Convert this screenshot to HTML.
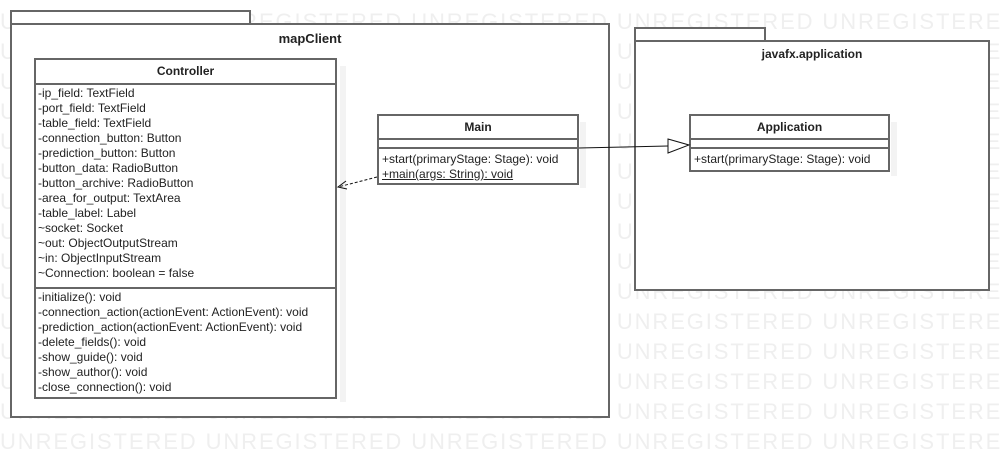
<!DOCTYPE html>
<html><head><style>
body{margin:0;width:1002px;height:458px;background:#fff;position:relative;overflow:hidden;font-family:"Liberation Sans",sans-serif;}
.wm{position:absolute;left:0;font-size:22px;color:#efefef;white-space:nowrap;letter-spacing:1.9px;line-height:1}
.b{position:absolute;border:1px solid #555;background:#fff;box-sizing:border-box}
.t{position:absolute;font-size:12px;color:#222;white-space:nowrap}
.hd{font-weight:bold;text-align:center;font-size:12px}
.sh{position:absolute;background:#f3f3f3}
</style></head><body>
<div id="wm"></div>
<script>
var s='';for(var i=0;i<15;i++){s+='<div class="wm" style="top:'+(11+i*30)+'px">'+'UNREGISTERED '.repeat(6)+'</div>';}
document.getElementById('wm').innerHTML=s;
</script>
<!-- mapClient package -->
<div class="b" style="left:10px;top:10px;width:241px;height:15px;border-width:2px;border-color:#666"></div>
<div class="b" style="left:10px;top:23px;width:600px;height:395px;border-width:2px;border-color:#666"></div>
<div class="t hd" style="left:10px;top:31px;width:600px;font-size:13px">mapClient</div>
<!-- javafx package -->
<div class="b" style="left:634px;top:27px;width:132px;height:15px;border-width:2px;border-color:#666"></div>
<div class="b" style="left:634px;top:40px;width:356px;height:251px;border-width:2px;border-color:#666"></div>
<div class="t hd" style="left:634px;top:47px;width:356px">javafx.application</div>
<!-- Controller -->
<div class="sh" style="left:340px;top:66px;width:6px;height:336px"></div>
<div class="b" style="left:34px;top:58px;width:303px;height:341px;border-width:2px;border-color:#666"></div>
<div class="t hd" style="left:34px;top:64px;width:303px">Controller</div>
<div style="position:absolute;left:34px;top:83px;width:303px;height:2px;background:#666"></div>
<div style="position:absolute;left:34px;top:287px;width:303px;height:2px;background:#666"></div>
<div class="t" style="left:38px;top:86px;line-height:15px">-ip_field: TextField<br>-port_field: TextField<br>-table_field: TextField<br>-connection_button: Button<br>-prediction_button: Button<br>-button_data: RadioButton<br>-button_archive: RadioButton<br>-area_for_output: TextArea<br>-table_label: Label<br>~socket: Socket<br>~out: ObjectOutputStream<br>~in: ObjectInputStream<br>~Connection: boolean = false</div>
<div class="t" style="left:38px;top:290px;line-height:15px">-initialize(): void<br>-connection_action(actionEvent: ActionEvent): void<br>-prediction_action(actionEvent: ActionEvent): void<br>-delete_fields(): void<br>-show_guide(): void<br>-show_author(): void<br>-close_connection(): void</div>
<!-- Main -->
<div class="sh" style="left:580px;top:122px;width:6px;height:66px"></div>
<div class="b" style="left:377px;top:114px;width:202px;height:71px;border-width:2px;border-color:#666"></div>
<div class="t hd" style="left:377px;top:120px;width:202px">Main</div>
<div style="position:absolute;left:377px;top:138px;width:202px;height:2px;background:#666"></div>
<div style="position:absolute;left:377px;top:147px;width:202px;height:2px;background:#666"></div>
<div class="t" style="left:382px;top:152px;line-height:15px">+start(primaryStage: Stage): void<br><u>+main(args: String): void</u></div>
<!-- Application -->
<div class="sh" style="left:891px;top:122px;width:6px;height:54px"></div>
<div class="b" style="left:689px;top:114px;width:201px;height:58px;border-width:2px;border-color:#666"></div>
<div class="t hd" style="left:689px;top:120px;width:201px">Application</div>
<div style="position:absolute;left:689px;top:138px;width:201px;height:2px;background:#666"></div>
<div style="position:absolute;left:689px;top:147px;width:201px;height:2px;background:#666"></div>
<div class="t" style="left:694px;top:152px">+start(primaryStage: Stage): void</div>
<svg style="position:absolute;left:0;top:0" width="1002" height="458">
<line x1="579" y1="148" x2="668" y2="146" stroke="#111" stroke-width="1"/>
<polygon points="668,139 689,145 668,153" fill="#fff" stroke="#111"/>
<line x1="377" y1="177" x2="338" y2="187" stroke="#111" stroke-dasharray="3,2"/>
<polyline points="346,181 338,187 347,189" fill="none" stroke="#111"/>
</svg>
</body></html>
